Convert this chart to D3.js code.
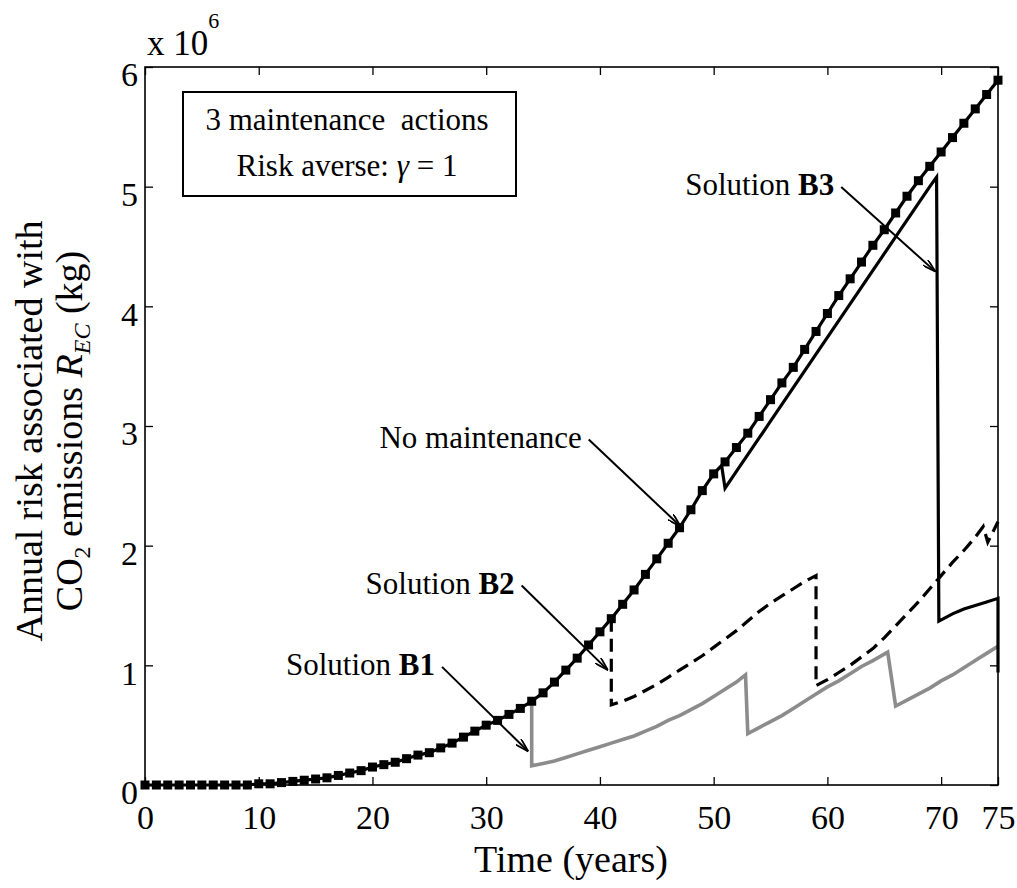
<!DOCTYPE html>
<html>
<head>
<meta charset="utf-8">
<script src="https://cdn.jsdelivr.net/npm/d3@7"></script>
<style>
  body { margin: 0; background: #fff; }
  text { font-family: "Liberation Serif", "Times New Roman", serif; fill: #000; }
</style>
</head>
<body>
<div id="vis"></div>
<script>
// values in units of 10^6 kg
const noMaintYears = d3.range(0, 76);
const noMaintRisk = [
  0.00, 0.00, 0.00, 0.00, 0.00, 0.00, 0.00, 0.00, 0.00, 0.00,
  0.01, 0.01, 0.02, 0.03, 0.04, 0.05, 0.06, 0.08, 0.10, 0.12,
  0.15, 0.17, 0.19, 0.22, 0.25, 0.27, 0.31, 0.35, 0.40, 0.45,
  0.50, 0.54, 0.59, 0.64, 0.70, 0.77, 0.86, 0.96, 1.06, 1.17,
  1.28, 1.39, 1.51, 1.63, 1.76, 1.89, 2.02, 2.15, 2.30, 2.46,
  2.60, 2.70, 2.82, 2.94, 3.08, 3.22, 3.36, 3.49, 3.64, 3.79,
  3.94, 4.09, 4.23, 4.37, 4.51, 4.64, 4.78, 4.92, 5.05, 5.17,
  5.29, 5.41, 5.53, 5.65, 5.77, 5.89
];

// Solution B1 (grey)
const b1Years = [34, 34, 35, 36, 37, 38, 39, 40, 41, 42, 43, 44, 45, 46, 47, 48, 49, 50, 51, 52, 52.8,
  53, 54, 55, 56, 57, 58, 59, 60, 61, 62, 63, 64, 65.3,
  66, 67, 68, 69, 70, 71, 72, 73, 74, 75];
const b1Risk = [0.70, 0.16, 0.18, 0.20, 0.23, 0.26, 0.29, 0.32, 0.35, 0.38, 0.41, 0.45, 0.49, 0.54, 0.58, 0.63, 0.68, 0.74, 0.80, 0.86, 0.92,
  0.43, 0.48, 0.53, 0.58, 0.64, 0.70, 0.76, 0.82, 0.87, 0.93, 0.99, 1.04, 1.11,
  0.66, 0.71, 0.76, 0.81, 0.87, 0.92, 0.98, 1.04, 1.10, 1.16];

// Solution B2 (dashed)
const b2Years = [41, 41, 42, 43, 44, 45, 46, 47, 48, 49, 50, 51, 52, 53, 54, 55, 56, 57, 58, 59,
  59, 60, 61, 62, 63, 64, 65, 66, 67, 68, 69, 70, 71, 72, 73, 73.7, 74.1, 75];
const b2Risk = [1.39, 0.67, 0.70, 0.74, 0.79, 0.84, 0.90, 0.96, 1.02, 1.08, 1.15, 1.22, 1.29, 1.37, 1.45, 1.52, 1.58, 1.64, 1.70, 1.75,
  0.83, 0.88, 0.94, 1.00, 1.07, 1.14, 1.23, 1.33, 1.43, 1.53, 1.64, 1.75, 1.86, 1.96, 2.07, 2.16, 2.03, 2.20];

// Solution B3 (solid)
const b3Years = [50.7, 51, 52, 53, 54, 55, 56, 57, 58, 59, 60, 61, 62, 63, 64, 65, 66, 67, 68, 69, 69.6,
  69.8, 71, 72, 73, 74, 75, 75];
const b3Risk = [2.67, 2.48, 2.62, 2.76, 2.90, 3.04, 3.18, 3.32, 3.46, 3.60, 3.74, 3.88, 4.02, 4.16, 4.30, 4.44, 4.58, 4.72, 4.86, 5.00, 5.08,
  1.37, 1.43, 1.47, 1.50, 1.53, 1.56, 0.94];

const xTicks = [0, 10, 20, 30, 40, 50, 60, 70, 75];
const yTicks = [0, 1, 2, 3, 4, 5, 6];

// annotation labels: text end and arrow tip in data units
const notes = [
  { label: 'No maintenance', bold: '', tx: 38.4, ty: 2.82, hx: 47.1, hy: 2.16 },
  { label: 'Solution ', bold: 'B2', tx: 32.5, ty: 1.60, hx: 40.7, hy: 0.96 },
  { label: 'Solution ', bold: 'B1', tx: 25.5, ty: 0.92, hx: 33.7, hy: 0.28 },
  { label: 'Solution ', bold: 'B3', tx: 60.6, ty: 4.93, hx: 69.5, hy: 4.29 }
];

const margin = { top: 67, right: 19, bottom: 103, left: 145 };
const width = 1017 - margin.left - margin.right;
const height = 888 - margin.top - margin.bottom;

const root = d3.select('#vis')
  .append('svg')
  .attr('width', 1017)
  .attr('height', 888);

const svg = root.append('g')
  .attr('transform', `translate(${margin.left},${margin.top})`);

const xScale = d3.scaleLinear().domain([0, 75]).range([0, width]);
const yScale = d3.scaleLinear().domain([0, 6]).range([height, 0]);

// arrow head
root.append('defs').append('marker')
  .attr('id', 'arrow')
  .attr('viewBox', '0 0 14 8')
  .attr('refX', 14).attr('refY', 4)
  .attr('markerWidth', 14).attr('markerHeight', 8)
  .attr('markerUnits', 'userSpaceOnUse')
  .attr('orient', 'auto')
  .append('path')
  .attr('d', 'M0,0 L14,4 L0,8')
  .attr('fill', 'none')
  .attr('stroke', '#000')
  .attr('stroke-width', 1.8);

// axes (matlab style, inward ticks)
const xAxis = d3.axisBottom(xScale).tickValues(xTicks).tickSizeInner(-8).tickSizeOuter(0).tickPadding(20);
const yAxis = d3.axisLeft(yScale).tickValues(yTicks).tickSizeInner(-8).tickSizeOuter(0).tickPadding(7)
  .tickFormat(d3.format('d'));

const gx = svg.append('g').attr('class', 'axis').attr('transform', `translate(0,${height})`).call(xAxis);
const gy = svg.append('g').attr('class', 'axis').call(yAxis);
svg.append('g').call(d3.axisTop(xScale).tickValues(xTicks).tickSizeInner(-8).tickSizeOuter(0).tickFormat(''));
svg.append('g').attr('transform', `translate(${width},0)`)
  .call(d3.axisRight(yScale).tickValues(yTicks).tickSizeInner(-8).tickSizeOuter(0).tickFormat(''));

svg.selectAll('.domain').remove();
svg.selectAll('.tick line').attr('stroke', '#000').attr('stroke-width', 1.3);
gx.selectAll('text').style('font-size', '34px');
gy.selectAll('text').style('font-size', '34px').attr('dy', '0.55em');

svg.append('rect')
  .attr('width', width).attr('height', height)
  .attr('fill', 'none').attr('stroke', '#000').attr('stroke-width', 1.6);

// lines
const line = d3.line()
  .x(d => xScale(d[0]))
  .y(d => yScale(d[1]));

const zip = (xs, ys) => xs.map((x, i) => [x, ys[i]]);

svg.append('path')
  .datum(zip(b1Years, b1Risk))
  .attr('d', line)
  .attr('fill', 'none')
  .attr('stroke', '#8c8c8c')
  .attr('stroke-width', 3.6);

svg.append('path')
  .datum(zip(b2Years, b2Risk))
  .attr('d', line)
  .attr('fill', 'none')
  .attr('stroke', '#000')
  .attr('stroke-width', 3.2)
  .attr('stroke-dasharray', '13,7');

svg.append('path')
  .datum(zip(b3Years, b3Risk))
  .attr('d', line)
  .attr('fill', 'none')
  .attr('stroke', '#000')
  .attr('stroke-width', 3.2);

const noMaint = zip(noMaintYears, noMaintRisk);
svg.append('path')
  .datum(noMaint)
  .attr('d', line)
  .attr('fill', 'none')
  .attr('stroke', '#000')
  .attr('stroke-width', 3.2);

svg.selectAll('.pt')
  .data(noMaint)
  .join('rect')
  .attr('class', 'pt')
  .attr('x', d => xScale(d[0]) - 4.5)
  .attr('y', d => yScale(d[1]) - 4.5)
  .attr('width', 9).attr('height', 9)
  .attr('fill', '#000');

// annotations
notes.forEach(n => {
  const t = svg.append('text')
    .attr('x', xScale(n.tx)).attr('y', yScale(n.ty))
    .attr('text-anchor', 'end')
    .style('font-size', '31px');
  t.append('tspan').text(n.label);
  if (n.bold) t.append('tspan').attr('font-weight', 'bold').text(n.bold);
  svg.append('line')
    .attr('x1', xScale(n.tx) + 7).attr('y1', yScale(n.ty) - 8)
    .attr('x2', xScale(n.hx)).attr('y2', yScale(n.hy))
    .attr('stroke', '#000').attr('stroke-width', 2)
    .attr('marker-end', 'url(#arrow)');
});

// legend box
root.append('rect')
  .attr('x', 183).attr('y', 92).attr('width', 333).attr('height', 104)
  .attr('fill', '#fff').attr('stroke', '#000').attr('stroke-width', 2);
root.append('text')
  .attr('x', 347).attr('y', 130).attr('text-anchor', 'middle')
  .style('font-size', '31px')
  .attr('xml:space', 'preserve')
  .text('3 maintenance  actions');
const leg2 = root.append('text')
  .attr('x', 347).attr('y', 176).attr('text-anchor', 'middle')
  .style('font-size', '31px');
leg2.append('tspan').text('Risk averse: ');
leg2.append('tspan').attr('font-style', 'italic').text('γ');
leg2.append('tspan').text(' = 1');

// exponent
const expo = root.append('text').attr('x', 147).attr('y', 55).style('font-size', '35px');
expo.append('tspan').text('x 10');
expo.append('tspan').attr('dy', -27).style('font-size', '22px').text('6');

// axis labels
root.append('text')
  .attr('x', 571).attr('y', 872).attr('text-anchor', 'middle')
  .style('font-size', '38px')
  .text('Time (years)');

const ylab = root.append('g').attr('transform', 'translate(0,431) rotate(-90)');
ylab.append('text')
  .attr('x', 0).attr('y', 42).attr('text-anchor', 'middle')
  .style('font-size', '38px')
  .text('Annual risk associated with');
const yl2 = ylab.append('text')
  .attr('x', 0).attr('y', 82).attr('text-anchor', 'middle')
  .style('font-size', '38px');
yl2.append('tspan').text('CO');
yl2.append('tspan').attr('dy', 8).style('font-size', '24px').text('2');
yl2.append('tspan').attr('dy', -8).text(' emissions  ');
yl2.append('tspan').attr('font-style', 'italic').text('R');
yl2.append('tspan').attr('dy', 8).attr('font-style', 'italic').style('font-size', '24px').text('EC');
yl2.append('tspan').attr('dy', -8).text(' (kg)');
</script>
</body>
</html>
